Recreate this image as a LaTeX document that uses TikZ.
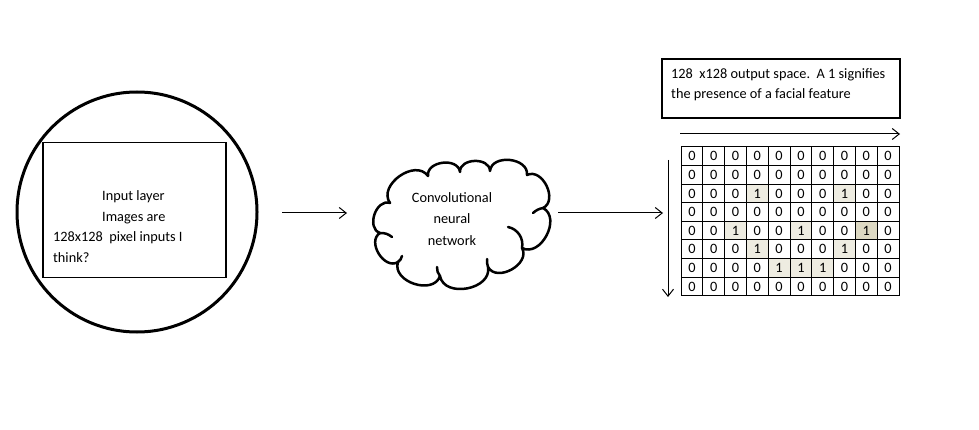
\documentclass[tikz,border=0pt]{standalone}
\usepackage{fontspec}
\setmainfont{Carlito}
\usetikzlibrary{arrows.meta}
\definecolor{shadeA}{HTML}{EEECE1}
\definecolor{shadeB}{HTML}{DDD9C3}
\begin{document}
\begin{tikzpicture}[x=1pt,y=-1pt,
  font=\fontsize{14.3}{18}\selectfont,
  arr/.style={line width=1pt,-{Straight Barb[length=7pt,width=11pt,line width=1pt]}},
  cellbox/.style={draw,line width=1pt,minimum width=21.8pt,minimum height=18.6pt,inner sep=0pt,font=\fontsize{14.3}{17}\selectfont},
  plain/.style={inner sep=0pt,anchor=west},
  cloudline/.style={line width=2.5pt,line join=round,line cap=round},
  puff/.style={bend left=90,looseness=1.2}]
\useasboundingbox[fill=white] (0,0) rectangle (979,430);

% input circle and box
\node[circle,draw,line width=3pt,minimum size=240pt,inner sep=0pt] (circ) at (137,212) {};
\node[draw,line width=1.3pt,minimum width=183pt,minimum height=135pt,inner sep=0pt] (inbox) at (134.5,210) {};
\node[plain] (t1) at (102,197) {Input layer};
\node[plain] (t2) at (102,218) {Images are};
\node[plain] (t3) at (53,238) {128x128\ \ pixel inputs I};
\node[plain] (t4) at (53,258) {think?};

% arrow 1
\coordinate (a1s) at (282,213);
\coordinate (a1e) at (347,213);
\draw[arr] (a1s) -- (a1e);

% cloud
\coordinate (j1) at (390,203);
\coordinate (j2) at (428,176);
\coordinate (j3) at (460,172);
\coordinate (j4) at (490,171);
\coordinate (j5) at (527,175);
\coordinate (j6) at (543,208);
\coordinate (j7) at (522,248);
\coordinate (j8) at (488,267);
\coordinate (j9) at (440,276);
\coordinate (j10) at (398,262);
\coordinate (j11) at (380,233);
\draw[cloudline] (j1) to[puff] (j2) to[puff] (j3) to[puff] (j4) to[puff] (j5)
  to[puff] (j6) to[puff] (j7) to[puff] (j8) to[puff] (j9) to[puff] (j10)
  to[puff] (j11) to[puff] cycle;
\draw[cloudline] (j11) to[bend left=20] (392,237);
\draw[cloudline] (j10) to[bend right=20] (402,256);
\draw[cloudline] (j9) to[bend left=20] (437,267);
\draw[cloudline] (j8) to[bend left=10] (487,259);
\draw[cloudline] (j7) to[bend right=45] (508,227);
\draw[cloudline] (j6) to[bend right=15] (533,213);
\node[align=center,font=\fontsize{14.3}{21.5}\selectfont] (cnntxt) at (452,219) {Convolutional\\neural\\network};

% arrow 2
\coordinate (a2s) at (558,213);
\coordinate (a2e) at (663,213);
\draw[arr] (a2s) -- (a2e);

% output text box
\node[draw,line width=1.3pt,minimum width=238pt,minimum height=59pt,inner sep=0pt] (outbox) at (781,88.5) {};
\node[plain] (o1) at (671,75) {128\ \ x128 output space.\ \ A 1 signifies};
\node[plain] (o2) at (671,95) {the presence of a facial feature};

% direction arrows
\coordinate (hs) at (680,134);
\coordinate (he) at (900,134);
\draw[arr] (hs) -- (he);
\coordinate (vs) at (668,160);
\coordinate (ve) at (668,297);
\draw[arr] (vs) -- (ve);

% grid
\foreach \r/\vals in {0/{0,0,0,0,0,0,0,0,0,0},
                      1/{0,0,0,0,0,0,0,0,0,0},
                      2/{0,0,0,1,0,0,0,1,0,0},
                      3/{0,0,0,0,0,0,0,0,0,0},
                      4/{0,0,1,0,0,1,0,0,1,0},
                      5/{0,0,0,1,0,0,0,1,0,0},
                      6/{0,0,0,0,1,1,1,0,0,0},
                      7/{0,0,0,0,0,0,0,0,0,0}}{
  \foreach \v [count=\c from 0] in \vals {
    \def\cf{white}%
    \ifnum\v=1 \def\cf{shadeA}\fi
    \ifnum\r=4 \ifnum\c=8 \def\cf{shadeB}\fi\fi
    \node[cellbox,fill=\cf] (cell-\r-\c) at ({681+10.9+\c*21.8},{147+9.3+\r*18.6}) {\v};
  }
}
\end{tikzpicture}
\end{document}
